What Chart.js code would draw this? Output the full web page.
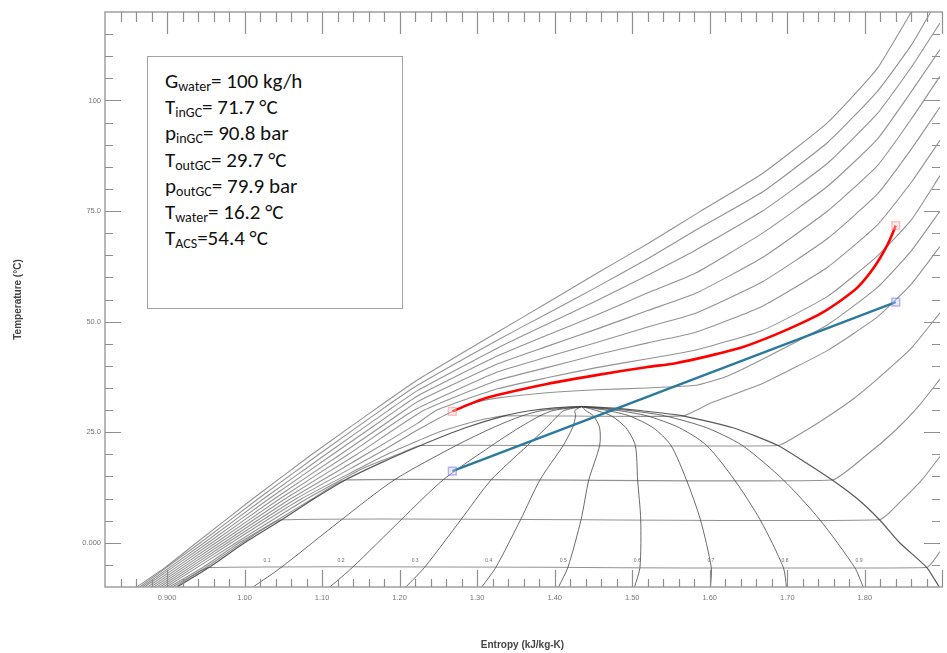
<!DOCTYPE html>
<html>
<head>
<meta charset="utf-8">
<script src="https://cdn.jsdelivr.net/npm/chart.js@4.4.1/dist/chart.umd.min.js"></script>
<style>
  html, body { margin: 0; padding: 0; background: #ffffff; overflow: hidden; }
  #wrap { position: relative; width: 947px; height: 653px; }
  #c { position: absolute; left: 0; top: 0; }
  #box {
    position: absolute; left: 147px; top: 56px; width: 256px; height: 253px;
    box-sizing: border-box; border: 1.5px solid #a3a3a3; background: #fff;
    padding: 11px 0 0 17px;
    font-family: Carlito, Lato, "Liberation Sans", sans-serif; font-size: 21px; line-height: 26.2px; color: #111;
  }
  #box sub { font-size: 14px; vertical-align: -3px; line-height: 0; }
</style>
</head>
<body>
<div id="wrap">
  <canvas id="c" width="947" height="653"></canvas>
  <div id="box">
    <div>G<sub>water</sub>= 100 kg/h</div>
    <div>T<sub>inGC</sub>= 71.7 °C</div>
    <div>p<sub>inGC</sub>= 90.8 bar</div>
    <div>T<sub>outGC</sub>= 29.7 °C</div>
    <div>p<sub>outGC</sub>= 79.9 bar</div>
    <div>T<sub>water</sub>= 16.2 °C</div>
    <div>T<sub>ACS</sub>=54.4 °C</div>
  </div>
</div>
<script>
// ---- axis ticks ----
const sTicks = [0.9, 1.0, 1.1, 1.2, 1.3, 1.4, 1.5, 1.6, 1.7, 1.8];
const sTickLabels = ['0.900', '1.00', '1.10', '1.20', '1.30', '1.40', '1.50', '1.60', '1.70', '1.80'];
const tTicks = [0, 25, 50, 75, 100];
const tTickLabels = ['0.000', '25.0', '50.0', '75.0', '100'];

// ---- gas cooler CO2 process (red) : entropy kJ/kg-K, temperature °C ----
const gcS = [1.268, 1.284, 1.304, 1.326, 1.390, 1.454, 1.518, 1.556, 1.598, 1.642, 1.684, 1.719, 1.744, 1.770, 1.791, 1.812, 1.829, 1.840];
const gcT = [29.7, 30.9, 32.3, 33.4, 35.9, 37.9, 39.7, 40.6, 42.2, 44.2, 47.0, 49.7, 51.9, 54.9, 57.8, 62.3, 67.3, 71.7];

// ---- water line (blue) ----
const waterS = [1.268, 1.840];
const waterT = [16.2, 54.4];

// ---- saturation dome ----
const domeS = [0.913, 0.954, 1.000, 1.048, 1.090, 1.130, 1.175, 1.227, 1.285, 1.335, 1.37, 1.40, 1.435, 1.47, 1.51, 1.565, 1.630, 1.688, 1.725, 1.758, 1.790, 1.819, 1.845, 1.880, 1.896];
const domeT = [-10, -5.6, 0, 5.2, 10, 14.2, 18, 22, 26, 28.7, 29.9, 30.5, 30.8, 30.5, 29.9, 28.7, 26, 22, 18, 14.2, 10, 5.2, 0, -5.6, -10];

// ---- constant quality lines ----
const qualityT = [-10, -5.6, 5.2, 14.2, 22, 26, 28.7, 29.9, 30.8];
const q1 = [1.011, 1.047, 1.125, 1.193, 1.273, 1.320, 1.358, 1.384, 1.435];
const q2 = [1.110, 1.139, 1.202, 1.256, 1.319, 1.354, 1.381, 1.398, 1.435];
const q3 = [1.208, 1.232, 1.279, 1.318, 1.365, 1.389, 1.404, 1.412, 1.435];
const q4 = [1.306, 1.324, 1.356, 1.381, 1.411, 1.423, 1.427, 1.426, 1.435];
const q5 = [1.405, 1.417, 1.434, 1.444, 1.458, 1.458, 1.450, 1.440, 1.435];
const q6 = [1.503, 1.510, 1.511, 1.507, 1.504, 1.492, 1.473, 1.454, 1.435];
const q7 = [1.601, 1.602, 1.588, 1.570, 1.550, 1.527, 1.496, 1.468, 1.435];
const q8 = [1.699, 1.695, 1.665, 1.632, 1.596, 1.561, 1.519, 1.482, 1.435];
const q9 = [1.798, 1.787, 1.742, 1.695, 1.642, 1.596, 1.542, 1.496, 1.435];
const qualityLabels = ['0.1', '0.2', '0.3', '0.4', '0.5', '0.6', '0.7', '0.8', '0.9'];

// ---- isobars [s, T] ----
const p30 = [[0.911,-10],[0.954,-5.6],[1.880,-5.6],[1.897,-2]];
const p40 = [[0.907,-10],[0.950,-5.6],[0.997,0],[1.048,5.2],[1.819,5.2],[1.85,10],[1.875,14.5],[1.897,19.5]];
const p50 = [[0.903,-10],[0.946,-5.6],[0.993,0],[1.043,5.2],[1.088,10],[1.130,14.2],[1.758,14.2],[1.80,19.5],[1.84,25.5],[1.87,31],[1.897,37]];
const p60 = [[0.899,-10],[0.989,0],[1.081,10],[1.155,17],[1.198,20],[1.227,22],[1.688,22],[1.72,25],[1.752,28.5],[1.785,32.5],[1.816,37],[1.860,44],[1.897,52]];
const p70 = [[0.895,-10],[0.983,0],[1.074,10],[1.184,20],[1.25,25],[1.30,27.6],[1.335,28.7],[1.565,28.7],[1.60,31.5],[1.668,36],[1.752,43.5],[1.816,51],[1.860,58.5],[1.897,67]];
const p80 = [[0.891,-10],[0.978,0],[1.067,10],[1.170,20],[1.223,25.5],[1.268,29.7],[1.30,31.8],[1.326,32.7],[1.39,33.9],[1.454,34.6],[1.52,35.0],[1.582,35.6],[1.62,37.5],[1.668,41.5],[1.752,49.3],[1.816,57.7],[1.86,66],[1.897,75]];
const p90 = [[0.887,-10],[0.973,0],[1.060,10],[1.157,20],[1.223,27],[1.248,30],[1.326,34.8],[1.39,37.3],[1.454,39.6],[1.52,41.6],[1.582,43.6],[1.668,48],[1.752,55.7],[1.816,64.8],[1.86,73],[1.897,83]];
const p100 = [[0.883,-10],[0.968,0],[1.053,10],[1.145,20],[1.232,30],[1.326,36.7],[1.39,39.6],[1.454,42.5],[1.52,45.2],[1.582,47.6],[1.668,53.5],[1.752,62.3],[1.816,71.8],[1.86,81.5],[1.897,91]];
const p110 = [[0.879,-10],[0.963,0],[1.046,10],[1.134,20],[1.219,30],[1.326,38.6],[1.39,42],[1.454,45.3],[1.52,48.8],[1.582,51.9],[1.668,59],[1.752,68.8],[1.816,78.8],[1.86,89],[1.897,98.5]];
const p120 = [[0.875,-10],[0.958,0],[1.039,10],[1.124,20],[1.207,30],[1.223,31.9],[1.326,40.4],[1.39,44.4],[1.454,48.3],[1.52,52.5],[1.582,56.4],[1.668,64.5],[1.752,75],[1.816,85.2],[1.86,95.8],[1.897,105.5]];
const p130 = [[0.871,-10],[0.953,0],[1.032,10],[1.114,20],[1.196,30],[1.223,33.2],[1.326,42.2],[1.39,46.9],[1.454,51.5],[1.52,56.5],[1.582,61],[1.668,70],[1.752,80.6],[1.816,91.2],[1.86,102],[1.897,111.5]];
const p140 = [[0.868,-10],[0.948,0],[1.025,10],[1.105,20],[1.186,30],[1.223,34.4],[1.326,44],[1.39,49.4],[1.454,54.7],[1.52,60.5],[1.582,66.2],[1.668,75],[1.752,85.8],[1.816,97],[1.86,107.5],[1.897,117.5]];
const p150 = [[0.865,-10],[0.943,0],[1.018,10],[1.096,20],[1.176,30],[1.223,35.6],[1.326,45.8],[1.39,51.8],[1.454,57.8],[1.52,64.2],[1.582,70.7],[1.668,79.3],[1.752,90.5],[1.816,102],[1.86,112.5],[1.885,120]];
const p160 = [[0.861,-10],[0.899,-5.4],[0.938,0],[1.011,10],[1.087,20],[1.167,30],[1.223,36.8],[1.326,47.6],[1.39,54.2],[1.454,60.9],[1.52,67.6],[1.582,74.3],[1.668,83.5],[1.752,95],[1.816,107.2],[1.86,120]];

const isobars = [p30, p40, p50, p60, p70, p80, p90, p100, p110, p120, p130, p140, p150, p160];
const qualityLines = [q1, q2, q3, q4, q5, q6, q7, q8, q9];

// ---- datasets ----
const zip = (xs, ys) => xs.map((v, i) => ({ x: v, y: ys[i] }));
const endPoints = (n, r) => (ctx) => (ctx.dataIndex === 0 || ctx.dataIndex === n - 1) ? r : 0;

const datasets = [];
datasets.push({
  label: 'CO2 gas cooler', data: zip(gcS, gcT), showLine: true,
  borderColor: '#ff0000', borderWidth: 2.6, tension: 0.25,
  pointStyle: 'rect', pointRadius: endPoints(gcS.length, 5.5),
  pointBorderColor: 'rgba(240,110,110,0.4)', pointBackgroundColor: 'rgba(255,215,215,0.4)', pointBorderWidth: 1.5
});
datasets.push({
  label: 'water', data: zip(waterS, waterT), showLine: true,
  borderColor: '#2b7a9c', borderWidth: 2.4, tension: 0,
  pointStyle: 'rect', pointRadius: endPoints(waterS.length, 5.5),
  pointBorderColor: 'rgba(100,100,230,0.45)', pointBackgroundColor: 'rgba(205,205,255,0.4)', pointBorderWidth: 1.5
});
datasets.push({
  label: 'dome', data: zip(domeS, domeT), showLine: true,
  borderColor: 'rgba(60,60,60,0.85)', borderWidth: 1.2, tension: 0.2, pointRadius: 0
});
qualityLines.forEach((q, i) => datasets.push({
  label: 'x=' + qualityLabels[i], data: zip(q, qualityT), showLine: true,
  borderColor: 'rgba(70,70,70,0.8)', borderWidth: 1, tension: 0.25, pointRadius: 0
}));
isobars.forEach((p, i) => datasets.push({
  label: 'isobar' + i, data: p.map(([s, t]) => ({ x: s, y: t })), showLine: true,
  borderColor: 'rgba(95,95,95,0.68)', borderWidth: 1.1, tension: 0.15, pointRadius: 0
}));

// ---- frame, inward ticks and quality labels ----
const framePlugin = {
  id: 'frame',
  afterDraw(chart) {
    const { ctx, chartArea: a, scales: { x, y } } = chart;
    ctx.save();
    ctx.strokeStyle = '#a0a0a0';
    ctx.lineWidth = 1.5;
    ctx.beginPath();
    ctx.moveTo(a.right + 3, a.top); ctx.lineTo(a.left, a.top); ctx.lineTo(a.left, a.bottom); ctx.lineTo(a.right + 3, a.bottom);
    ctx.stroke();
    ctx.lineWidth = 1.2;
    ctx.strokeStyle = '#8f8f8f';
    ctx.beginPath();
    for (let k = 41; k <= 95; k++) {
      const px = Math.round(x.getPixelForValue(k / 50)) + 0.5;
      if (px < a.left + 1 || px > 947) continue;
      const major = k % 5 === 0;
      ctx.moveTo(px, a.bottom); ctx.lineTo(px, a.bottom - (major ? 17 : 8));
      ctx.moveTo(px, a.top); ctx.lineTo(px, a.top + (major ? 22 : 10));
    }
    for (let v = -5; v <= 115; v += 5) {
      const py = Math.round(y.getPixelForValue(v)) + 0.5;
      const major = v % 25 === 0;
      ctx.moveTo(a.left, py); ctx.lineTo(a.left + (major ? 16 : 8), py);
      ctx.moveTo(a.right, py); ctx.lineTo(a.right - (major ? 16 : 8), py);
    }
    ctx.stroke();
    // quality labels
    ctx.fillStyle = '#6f6f6f';
    ctx.font = '5px "Liberation Sans", sans-serif';
    ctx.textAlign = 'center';
    ctx.textBaseline = 'middle';
    qualityLines.forEach((q, i) => {
      const px = (x.getPixelForValue(q[0]) + x.getPixelForValue(q[1])) / 2;
      const py = y.getPixelForValue(qualityT[1]) - 7;
      ctx.fillText(qualityLabels[i], px, py);
    });
    ctx.restore();
  }
};

new Chart(document.getElementById('c'), {
  type: 'scatter',
  data: { datasets },
  options: {
    responsive: false,
    animation: false,
    devicePixelRatio: 1,
    layout: { padding: { top: 12, right: 1, left: 0, bottom: 0 } },
    plugins: { legend: { display: false }, tooltip: { enabled: false } },
    scales: {
      x: {
        type: 'linear', min: 0.82, max: 1.897,
        afterBuildTicks: (s) => { s.ticks = sTicks.map(v => ({ value: v })); },
        afterFit: (s) => { s.height = 66; },
        ticks: {
          callback: (v, i) => sTickLabels[i], autoSkip: false, maxRotation: 0,
          color: '#777', font: { size: 7.5, family: '"Liberation Sans", sans-serif' }, padding: 6
        },
        grid: { display: false, drawTicks: false },
        border: { display: false },
        title: {
          display: true, text: 'Entropy (kJ/kg-K)', color: '#444',
          font: { size: 10, weight: 'bold', family: '"Liberation Sans", sans-serif' }, padding: { top: 0, bottom: 2 }
        }
      },
      y: {
        type: 'linear', min: -10, max: 120,
        afterBuildTicks: (s) => { s.ticks = tTicks.map(v => ({ value: v })); },
        afterFit: (s) => { s.width = 105; },
        ticks: {
          callback: (v, i) => tTickLabels[i], autoSkip: false,
          color: '#777', font: { size: 7.5, family: '"Liberation Sans", sans-serif' }, padding: 4
        },
        grid: { display: false, drawTicks: false },
        border: { display: false },
        title: {
          display: true, text: 'Temperature (°C)', color: '#444',
          font: { size: 10, weight: 'bold', family: '"Liberation Sans", sans-serif' }, padding: { top: 12, bottom: 0 }
        }
      }
    }
  },
  plugins: [framePlugin]
});
</script>
</body>
</html>
